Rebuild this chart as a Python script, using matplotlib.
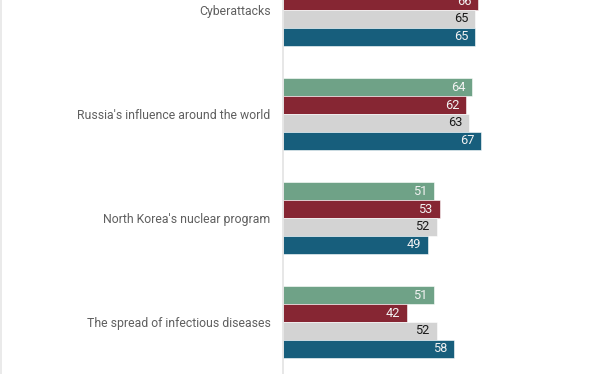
import numpy as np
import matplotlib.pyplot as plt
from matplotlib.lines import Line2D

plt.rcParams['font.family'] = ['Roboto', 'DejaVu Sans']

categories = ["Cyberattacks", "Russia's influence around the world",
              "North Korea's nuclear program", "The spread of infectious diseases"]
series_green = [63, 64, 51, 51]
series_red = [66, 62, 53, 42]
series_gray = [65, 63, 52, 52]
series_blue = [65, 67, 49, 58]

series = [series_green, series_red, series_gray, series_blue]
colors = ["#6fa287", "#862633", "#d3d3d3", "#175e7c"]
text_colors = ["#f2f2f2", "#f2f2f2", "#1a1a1a", "#f2f2f2"]

fig = plt.figure(figsize=(6.12, 3.74), dpi=100)
ax = fig.add_axes([283 / 612, 0, 1 - 283 / 612, 1])

bar_h = 0.172
y = np.arange(len(categories))
for k, (vals, c, tc) in enumerate(zip(series, colors, text_colors)):
    pos = y + (k - 1.5) * bar_h
    ax.barh(pos, vals, height=bar_h, color=c, edgecolor="white", linewidth=0.4)
    for p, v in zip(pos, vals):
        ax.annotate(str(v), (v, p), xytext=(-5, 0), textcoords="offset points",
                    ha="right", va="center", fontsize=9.2, color=tc)

ax.set_xlim(0, 111.3)
ax.set_ylim(3.5, -0.096)
ax.set_yticks(y)
ax.set_yticklabels(categories, fontsize=8.85, color="#5f5f5f")
ax.tick_params(axis="y", length=0, pad=9)
ax.set_xticks([])
for s in ["top", "right", "bottom"]:
    ax.spines[s].set_visible(False)
ax.spines["left"].set_color("#e3e3e3")
ax.spines["left"].set_linewidth(1.2)

fig.add_artist(Line2D([0.8 / 612, 0.8 / 612], [0, 1], color="#e6e6e6", lw=1.2,
                      transform=fig.transFigure))

fig.savefig("out.png", dpi=100)
